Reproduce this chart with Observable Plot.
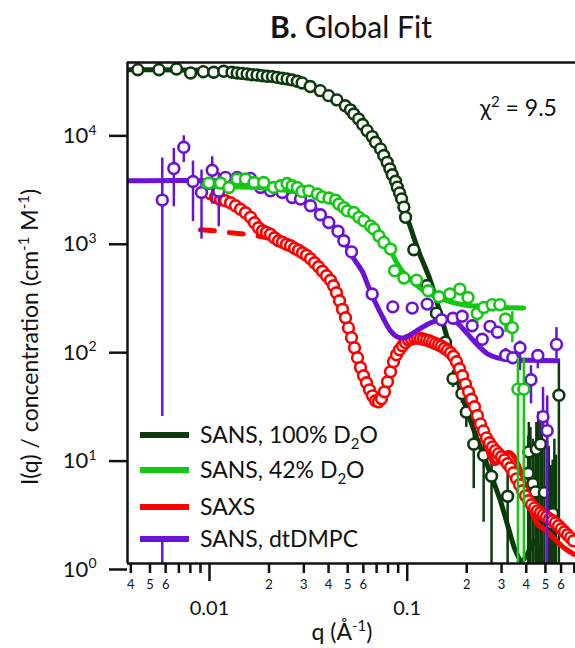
<!DOCTYPE html>
<html><head><meta charset="utf-8">
<script src="https://cdn.jsdelivr.net/npm/d3@7"></script>
<script src="https://cdn.jsdelivr.net/npm/@observablehq/plot@0.6"></script>
<style>
body{margin:0;background:#fff;font-family:Lato,sans-serif;color:#111;}
#title{height:50px;width:575px;box-sizing:border-box;padding-left:127px;text-align:center;font-size:30px;line-height:52px;color:#111;}
</style></head><body>
<div id="title"><b>B.</b> Global Fit</div>
<div id="chart"></div>
<script>
// ---- SANS, 100% D2O ----
const dgQ = [0.00434,0.00555,0.00681,0.00802,0.0093,0.0105,0.0118,0.0130,0.0138,0.0146,0.0155,0.0164,0.0174,0.0185,0.0196,0.0208,0.0220,0.0233,0.0247,0.0262,0.0278,0.0294,0.0323,0.0363,0.0400,0.0441,0.0486,0.0516,0.0537,0.0568,0.0595,0.0627,0.0665,0.0691,0.0733,0.0761,0.0792,0.0817,0.0840,0.0873,0.0891,0.0915,0.0937,0.0962,0.0981,0.108,0.126,0.1405,0.156,0.1705,0.189,0.199,0.217,0.2435,0.267,0.322,0.409,0.412,0.432,0.445,0.450,0.472,0.494,0.533,0.544,0.585,0.42,0.46,0.48,0.51,0.52,0.555,0.565];
const dgI = [35900,35900,36500,33500,34400,34000,34700,34000,33500,33200,32800,32300,32100,31600,31200,31000,30500,29900,29500,28900,28100,27100,25100,23000,20700,18900,16700,15300,14000,12600,11200,9840,8670,7690,6680,5800,5020,4370,3850,3360,2960,2620,2310,1940,1560,784,367,204,110,50.7,36.9,24.9,12.6,9.96,6.38,4.17,6.8,10.7,5.46,4.57,11.3,12.6,4.51,2.34,2.89,35.6,0.6,0.5,0.7,0.6,0.5,0.6,0.5];
const dgErrQ = [0.1705,0.189,0.199,0.217,0.2435,0.267,0.322,0.409,0.412,0.432,0.445,0.450,0.472,0.494,0.533,0.544,0.585,0.42,0.46,0.48,0.51,0.52,0.555,0.565];
const dgErrLo = [42,30,18,4.9,2.4,0.3,0.3,0.3,0.3,0.3,0.3,0.3,0.3,0.3,0.3,0.3,0.3,0.1,0.1,0.1,0.1,0.1,0.1,0.1];
const dgErrHi = [60,45,33,28,16,12,11,15,20,14,12,20,22,13,8,9,77,18,25,16,19,12,14,10];
const dgFitQ = [0.003848,0.009,0.0161,0.0257,0.0364,0.0488,0.0615,0.0776,0.0924,0.104,0.114,0.131,0.153,0.170,0.186,0.209,0.235,0.264,0.296,0.325,0.353,0.379,0.406,0.436,0.456,0.478,0.507];
const dgFitI = [35800,35500,33000,29000,23400,16700,10700,5410,2310,1250,764,406,156,79,39.3,20.7,11.7,6.72,3.79,2.13,1.31,1.06,1.23,1.62,1.43,1.015,0.69];

// ---- SANS, 42% D2O ----
const grQ = [0.00992,0.01137,0.01253,0.0138,0.0152,0.0168,0.0188,0.0211,0.0229,0.0247,0.0262,0.0278,0.0294,0.0318,0.0351,0.0372,0.0402,0.0434,0.0451,0.0478,0.0498,0.0537,0.0570,0.0604,0.0653,0.0678,0.0719,0.0762,0.0824,0.0863,0.0962,0.1115,0.1277,0.1445,0.1643,0.1846,0.203,0.226,0.244,0.269,0.294,0.314,0.340,0.363,0.389];
const grI = [3230,3230,2940,3520,3520,3270,3270,2940,3050,3200,3050,2940,2700,2740,2560,2410,2350,2250,2070,1920,1790,1730,1560,1450,1300,1220,1050,915,795,501,430,411,328,289,306,340,284,202,230,244,244,180,150,40.6,40.6];
const grErrQ = [0.226,0.314,0.340,0.363,0.389];
const grErrLo = [166,135,109,0.3,0.3];
const grErrHi = [249,200,210,79,79];
const grFitQ = [0.00933,0.01277,0.01811,0.0257,0.0364,0.0487,0.0615,0.0733,0.0824,0.0925,0.104,0.121,0.144,0.180,0.235,0.388];
const grFitI = [3050,2990,2930,2740,2410,1910,1450,1125,767,524,414,328,283,249,234,228];

// ---- SAXS ----
const sxQ = [0.00954,0.01012,0.01072,0.01137,0.01205,0.01277,0.01354,0.01435,0.01521,0.01612,0.01689,0.01769,0.01854,0.01942,0.02034,0.02132,0.02234,0.0234,0.02452,0.02569,0.02692,0.0282,0.02954,0.03095,0.03243,0.03398,0.03559,0.03729,0.03907,0.04093,0.04239,0.04389,0.04545,0.04707,0.04875,0.05047,0.05227,0.05412,0.05606,0.05803,0.0601,0.06224,0.06444,0.06673,0.06912,0.07157,0.07411,0.07674,0.07948,0.08231,0.08522,0.08826,0.09141,0.09467,0.09802,0.1015,0.1051,0.1089,0.1127,0.1167,0.1209,0.1252,0.1296,0.1342,0.139,0.144,0.1491,0.1544,0.1599,0.1656,0.1714,0.1775,0.1839,0.1904,0.1971,0.2042,0.2114,0.219,0.2267,0.2348,0.2432,0.2518,0.2608,0.27,0.2796,0.2896,0.2999,0.3105,0.3216,0.3331,0.3448,0.3571,0.3698,0.383,0.3965,0.4106,0.4252,0.4404,0.456,0.4722,0.489,0.5064,0.5245,0.5431,0.5624,0.5825,0.6031,0.6245,0.6468,0.6699,0.6936];
const sxI = [2740,2570,2390,2265,2218,2125,1995,1852,1718,1563,1390,1250,1172,1135,1089,1011,948,918,881,853,809,775,735,697,647,594,546,496,451,410,365,314,265,221,185,149,121,97.7,79.0,64.3,53.9,46.5,40.0,35.2,31.7,31.0,33.1,38.4,47.5,58.7,72.6,84.2,93.6,102,109,115,118,120,120,119,117,115,113,110,107,104,101,96.6,92.6,87.9,81.5,72.6,62.5,53.9,45.2,38.4,32.7,27.9,23.1,19.4,16.7,14.4,13.0,11.9,11.0,10.3,9.65,9.05,8.31,7.64,6.87,6.04,5.32,4.69,4.21,3.79,3.48,3.26,3.06,2.94,2.81,2.70,2.58,2.48,2.37,2.23,2.09,1.96,1.84,1.73,1.62];
const sxFitQ = [0.01854,0.02034,0.0234,0.02569,0.0282,0.03095,0.03398,0.03729,0.04093,0.04389,0.04707,0.05047,0.05412,0.05803,0.06224,0.06673,0.06912,0.07157,0.07411,0.07674,0.07948,0.08231,0.08522,0.08826,0.09467,0.1015,0.1089,0.1167,0.1252,0.1342,0.144,0.1544,0.1656,0.1775,0.1904,0.2042,0.219,0.2348,0.2518,0.2608,0.27,0.2796,0.2896,0.2999,0.3105,0.3216,0.3331,0.3448,0.3571,0.3698,0.383,0.3965,0.4106,0.4252,0.4404,0.456,0.4722,0.489,0.5064,0.5245,0.5431,0.5624,0.5825,0.6031,0.6245,0.6468,0.6699,0.6936];
const sxFitI = [1032,989,889,834,767,690,607,501,405,314,224,153,99.8,63.8,44.5,33.1,29.7,28.5,31.0,36.8,46.5,58.7,72.6,84.2,102,116,121,121,116,111,105,97.7,86.0,71.1,53.9,38.4,27.9,18.2,12.2,9.85,8.67,8.31,8.67,9.44,10.1,10.5,10.5,9.85,8.86,7.64,6.31,4.99,3.95,3.13,2.58,2.32,2.18,2.09,1.98,1.88,1.76,1.65,1.55,1.46,1.38,1.32,1.27,1.22];
const sxExtQ = [0.009,0.01072,0.01277,0.01521,0.01854];
const sxExtI = [1197,1172,1124,1089,1032];

// ---- SANS, dtDMPC ----
const dtQ = [0.00577,0.0066,0.00741,0.00825,0.00911,0.01032,0.01114,0.01205,0.01381,0.01612,0.01811,0.02034,0.02332,0.0262,0.02886,0.03243,0.03641,0.04011,0.04467,0.04779,0.05227,0.06651,0.08455,0.106,0.1262,0.1491,0.1704,0.1897,0.2132,0.2396,0.2623,0.2862,0.3149,0.3421,0.372,0.4227,0.4577,0.4863,0.5106,0.5689];
const dtI = [2250,4400,6910,3340,2646,4240,2715,3640,3640,3564,2942,2742,2646,2378,2300,1995,1648,1400,1160,948,750,306,233,227,247,177,183,191,156,117,154,136,83.3,79.0,97.7,49.5,82.9,22.6,16.8,105];
const dtErrQ = [0.00577,0.0066,0.00741,0.00825,0.00911,0.01032,0.01114,0.2132,0.2396,0.3149,0.3421,0.372,0.4227,0.4577,0.4863,0.5106,0.5689];
const dtErrLo = [0.3,1953,5000,1429,984,2067,1277,140,105,72,70,60.0,29.7,62.5,15.7,0.3,77.3];
const dtErrHi = [5490,6730,8830,5160,4256,5650,4018,172,130,96,88,113,66.7,91.7,42.0,35.2,150];
const dtFitQ = [0.003848,0.01072,0.01435,0.01811,0.02286,0.02886,0.03641,0.04339,0.04875,0.05288,0.0594,0.06372,0.06912,0.0759,0.08231,0.08933,0.0969,0.1114,0.1312,0.1562,0.1775,0.1995,0.2267,0.2548,0.2862,0.3331,0.4203,0.5756];
const dtFitI = [3390,3390,3250,2986,2630,2265,1718,1224,889,675,491,357,254,181,140,123,121,140,166,180,168,134,104,86.0,79.0,75.7,74.9,74.1];

// ---- axes ----
const qDomain = [0.003848, 0.7098];
const iDomain = [1, 41840];
const yTicks = [1, 10, 100, 1000, 10000];
const xMajorTicks = [0.01, 0.1];
const xMajorLabels = ["0.01", "0.1"];
const xMinorTicks = [0.004,0.005,0.006,0.007,0.008,0.009,0.02,0.03,0.04,0.05,0.06,0.07,0.08,0.09,0.2,0.3,0.4,0.5,0.6,0.7];
const xMinorLabels = ["4","5","6","","","","2","3","4","5","6","","","","2","3","4","5","6",""];

const names = [["SANS, 100% D","2","O"],["SANS, 42% D","2","O"],["SAXS"],["SANS, dtDMPC"]];
const colors = ["#0c3a0c", "#12c812", "#ff0000", "#6a12d6"];
const [cDG, cGR, cSX, cDT] = colors;

const pts = (q, I) => q.map((d, i) => ({q: d, I: I[i]}));
const errs = (q, lo, hi) => q.map((d, i) => ({q: d, lo: lo[i], hi: hi[i]}));
const minorLabelRows = xMinorTicks.map((d, i) => ({q: d, label: xMinorLabels[i]})).filter(d => d.label);

const dotOpts = (c) => ({x: "q", y: "I", r: 5.4, stroke: c, fill: "white", strokeWidth: 2.6, clip: true});
const fitOpts = (c) => ({x: "q", y: "I", stroke: c, strokeWidth: 5, curve: "catmull-rom", clip: true});
const errOpts = (c) => ({x: "q", y1: "lo", y2: "hi", stroke: c, strokeWidth: 2.5, clip: true});

const plot = Plot.plot({
  width: 575, height: 598,
  marginTop: 12, marginBottom: 85, marginLeft: 127, marginRight: 0,
  style: {fontFamily: "Lato, sans-serif", background: "white", color: "#111", overflow: "visible"},
  x: {type: "log", domain: qDomain},
  y: {type: "log", domain: iDomain},
  marks: [
    // 100% D2O
    Plot.ruleX(errs(dgErrQ, dgErrLo, dgErrHi), errOpts(cDG)),
    Plot.line(pts(dgFitQ, dgFitI), fitOpts(cDG)),
    Plot.dot(pts(dgQ, dgI), dotOpts(cDG)),
    // SAXS
    Plot.line(pts(sxExtQ, sxExtI), {...fitOpts(cSX), strokeDasharray: "14,15", curve: "linear"}),
    Plot.line(pts(sxFitQ, sxFitI), fitOpts(cSX)),
    Plot.dot(pts(sxQ, sxI), dotOpts(cSX)),
    // dtDMPC
    Plot.ruleX(errs(dtErrQ, dtErrLo, dtErrHi), errOpts(cDT)),
    Plot.line(pts(dtFitQ, dtFitI), fitOpts(cDT)),
    Plot.dot(pts(dtQ, dtI), dotOpts(cDT)),
    // 42% D2O
    Plot.ruleX(errs(grErrQ, grErrLo, grErrHi), errOpts(cGR)),
    Plot.line(pts(grFitQ, grFitI), fitOpts(cGR)),
    Plot.dot(pts(grQ, grI), dotOpts(cGR)),
    // frame lines
    Plot.ruleY([iDomain[0]], {stroke: "#111", strokeWidth: 2.5}),
    Plot.ruleY([iDomain[1]], {stroke: "#111", strokeWidth: 2.5}),
    Plot.ruleX([qDomain[0]], {stroke: "#111", strokeWidth: 2.5}),
    // axes
    Plot.axisY(yTicks, {tickSize: 18, tickPadding: 13, strokeWidth: 2.5, fontSize: 22, dy: 6,
      tickFormat: d => String(Math.round(Math.log10(d))), label: null}),
    Plot.axisX(xMinorTicks, {tickSize: 10, strokeWidth: 2.5, tickFormat: () => "", label: null}),
    Plot.text(minorLabelRows, {x: "q", text: "label", frameAnchor: "bottom", lineAnchor: "top", dy: 16, fontSize: 13, fill: "#111"}),
    Plot.axisX(xMajorTicks, {tickSize: 18, tickPadding: 19, strokeWidth: 2.5, fontSize: 20,
      tickFormat: d => xMajorLabels[xMajorTicks.indexOf(d)], label: null})
  ]
});
document.getElementById("chart").appendChild(plot);

const svg = d3.select(plot);
// superscript exponents on y tick labels
svg.selectAll('g[aria-label="y-axis tick label"] text').each(function() {
  const t = d3.select(this);
  const e = t.text();
  t.text("10");
  t.append("tspan").attr("dy", "-0.6em").attr("font-size", 14).text(e);
});

// legend
const lg = svg.append("g").attr("font-size", 23).attr("fill", "#111").attr("text-anchor", "start");
lg.append("rect").attr("x", 131).attr("y", 366).attr("width", 270).attr("height", 123).attr("fill", "white");
const legY = [385, 420, 457, 489];
names.forEach((parts, i) => {
  lg.append("line").attr("x1", 140).attr("x2", 189).attr("y1", legY[i]).attr("y2", legY[i])
    .attr("stroke", colors[i]).attr("stroke-width", 6);
  const t = lg.append("text").attr("x", 200).attr("y", legY[i]).attr("dy", "0.36em");
  t.append("tspan").text(parts[0]);
  if (parts.length > 1) {
    t.append("tspan").attr("dy", 6).attr("font-size", 15).text(parts[1]);
    t.append("tspan").attr("dy", -6).text(parts[2]);
  }
});

// chi-squared annotation
const chi = svg.append("text").attr("x", 480).attr("y", 58).attr("dy", "0.36em").attr("font-size", 23)
  .attr("fill", "#111").attr("text-anchor", "start");
chi.append("tspan").text("χ");
chi.append("tspan").attr("dy", -9).attr("font-size", 15).text("2");
chi.append("tspan").attr("dy", 9).text(" = 9.5");

// axis titles
const yt = svg.append("text").attr("transform", "translate(30,287) rotate(-90)").attr("text-anchor", "middle")
  .attr("dy", "0.36em").attr("font-size", 23).attr("fill", "#111");
yt.append("tspan").text("I(q) / concentration (cm");
yt.append("tspan").attr("dy", -9).attr("font-size", 15).text("-1");
yt.append("tspan").attr("dy", 9).text(" M");
yt.append("tspan").attr("dy", -9).attr("font-size", 15).text("-1");
yt.append("tspan").attr("dy", 9).text(")");

const xt = svg.append("text").attr("x", 342).attr("y", 582).attr("text-anchor", "middle")
  .attr("dy", "0.36em").attr("font-size", 23).attr("fill", "#111");
xt.append("tspan").text("q (Å");
xt.append("tspan").attr("dy", -9).attr("font-size", 15).text("-1");
xt.append("tspan").attr("dy", 9).text(")");
</script>
</body></html>
